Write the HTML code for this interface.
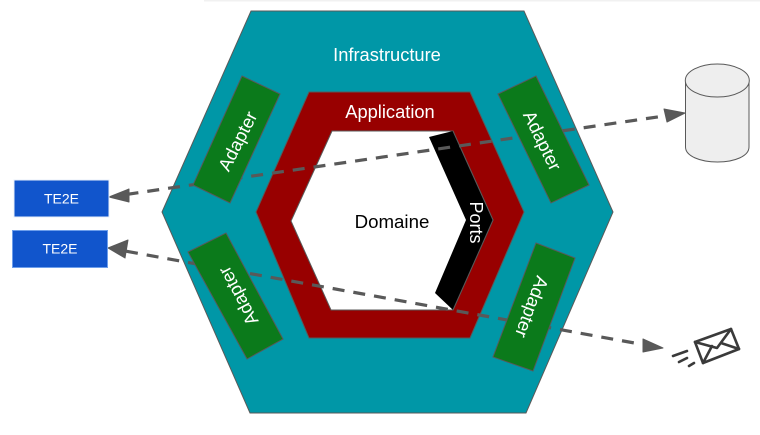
<!DOCTYPE html>
<html><head><meta charset="utf-8"><style>
html,body{margin:0;padding:0;background:#fff}
svg{display:block}
text{font-family:"Liberation Sans",sans-serif;fill:#fff;text-anchor:middle}
</style></head><body>
<svg width="760" height="435" viewBox="0 0 760 435" xmlns="http://www.w3.org/2000/svg">
<rect x="204" y="0" width="556" height="1.5" fill="#f1f1f1"/>
<polygon points="251,11 524,11 613,212 526,413 250,413 162,212" fill="#0097a7" stroke="#595959" stroke-width="1"/>
<polygon points="309,92 470,92 524,212 470,338 309,338 256,212" fill="#980000" stroke="#595959" stroke-width="1"/>
<polygon points="332,131 453,131 493,220 453,310 331,310 291,221" fill="#fff" stroke="#595959" stroke-width="1"/>
<polygon points="429,137 453,131 493,220 453,310 435,293 466,220" fill="#000"/>
<line x1="453" y1="131" x2="493" y2="220" stroke="#595959"/>
<line x1="493" y1="220" x2="453" y2="310" stroke="#595959"/>
<!-- connectors -->
<line x1="126.500" y1="194.400" x2="660" y2="116.600" stroke="#595959" stroke-width="3.200" stroke-dasharray="12,9"/>
<polygon points="109,197 129,189 129,202" fill="#595959" stroke="#595959" stroke-linejoin="round"/>
<polygon points="685,113 664,109 667,122" fill="#595959" stroke="#595959" stroke-linejoin="round"/>
<line x1="126" y1="251.200" x2="640" y2="344" stroke="#595959" stroke-width="3.200" stroke-dasharray="12,9"/>
<polygon points="108,248 128,240 125,258" fill="#595959" stroke="#595959" stroke-linejoin="round"/>
<polygon points="663,348 643,339 643,352" fill="#595959" stroke="#595959" stroke-linejoin="round"/>
<!-- adapters -->
<g fill="#0b7a1b" stroke="#595959" stroke-width="1">
<polygon points="242,76 280,94 230,203 193,185"/>
<polygon points="226,233 283,339 247,359 188,252"/>
<polygon points="536,76 589,185 551,203 498,94"/>
<polygon points="536,243 575,258 533,371 493,357"/>
</g>
<!-- labels -->
<text x="387" y="61" font-size="18.3">Infrastructure</text>
<text x="390" y="118" font-size="18.3">Application</text>
<text x="392" y="228" font-size="18.67" style="fill:#000">Domaine</text>
<text transform="translate(470,222.500) rotate(90)" font-size="18">Ports</text>
<text transform="translate(237.500,141) rotate(-63)" y="6.500" font-size="18.3">Adapter</text>
<text transform="translate(542.500,140.500) rotate(64)" y="6.500" font-size="18.3">Adapter</text>
<text transform="translate(238,296) rotate(241.7)" y="6.500" font-size="18.3">Adapter</text>
<text transform="translate(532,307) rotate(110.5)" y="6.500" font-size="18.3">Adapter</text>
<!-- TE2E -->
<rect x="14" y="180" width="95" height="37" fill="#1155cc" stroke="#e8effa" stroke-width="1"/>
<text x="61.5" y="203.500" font-size="14">TE2E</text>
<rect x="12.500" y="230.500" width="95" height="37" fill="#1155cc" stroke="#6d9eeb" stroke-width="1"/>
<text x="60" y="253.500" font-size="14">TE2E</text>
<!-- database -->
<path d="M685.500,80.500 V147 C685.500,156 700,162 717.500,162 C735,162 749,156 749,147 V80.500" fill="#eeeeee" stroke="#595959" stroke-width="1"/>
<ellipse cx="717.300" cy="80.500" rx="32" ry="16.500" fill="#eeeeee" stroke="#595959" stroke-width="1"/>
<!-- mail -->
<g fill="none" stroke="#3a3a3a" stroke-width="2.600" stroke-linecap="round" stroke-linejoin="round">
<polygon points="695,342 731,329 739,349 703,363"/>
<polyline points="695,342 717,348 731,329"/>
<line x1="703" y1="363" x2="712" y2="346"/>
<line x1="721" y1="343" x2="739" y2="349"/>
<line x1="673" y1="356" x2="687" y2="351"/>
<line x1="679" y1="362" x2="687" y2="358"/>
<line x1="689" y1="366" x2="694" y2="363"/>
</g>
</svg>
</body></html>
